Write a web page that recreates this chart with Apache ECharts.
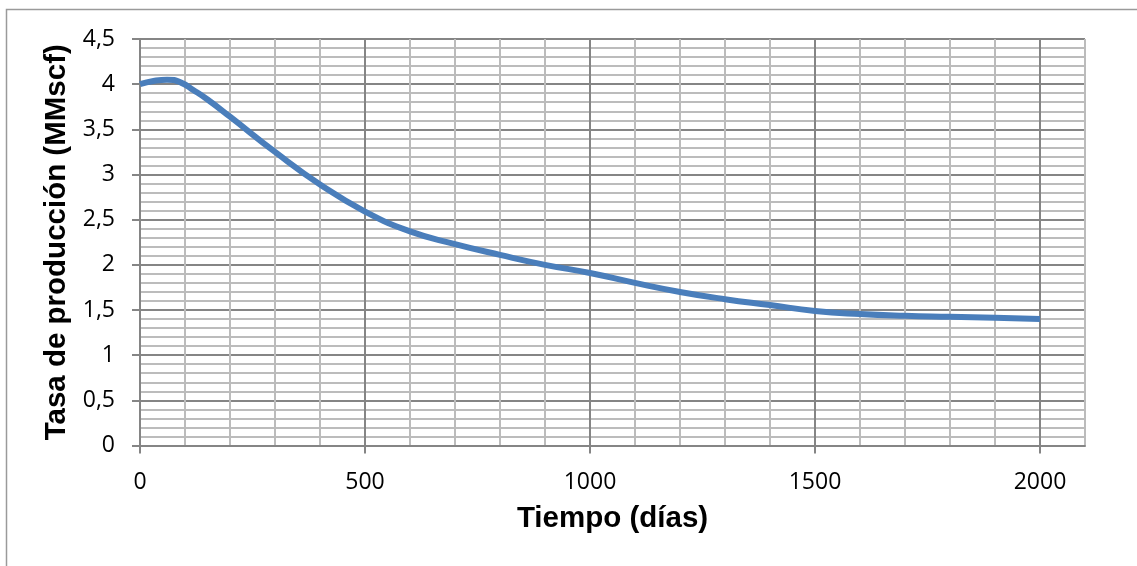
<!DOCTYPE html>
<html>
<head>
<meta charset="utf-8">
<script src="https://cdn.jsdelivr.net/npm/echarts@6/dist/echarts.min.js"></script>
<style>
  html, body { margin: 0; padding: 0; background: #fff; }
  #chart { width: 1137px; height: 566px; }
</style>
</head>
<body>
<div id="chart"></div>
<script>
// datos
const dias = [0, 30, 60, 90, 120, 150, 200, 300, 400, 500, 600, 700, 800, 900, 1000,
  1100, 1200, 1300, 1400, 1500, 1600, 1700, 1800, 1900, 2000]
const tasa = [4.0, 4.035, 4.05, 4.02, 3.93, 3.83, 3.64, 3.25, 2.89, 2.59, 2.37, 2.23, 2.11, 2.0, 1.91,
  1.80, 1.70, 1.62, 1.555, 1.49, 1.455, 1.435, 1.424, 1.413, 1.40]
const xTicks = [0, 500, 1000, 1500, 2000]

const chart = echarts.init(document.getElementById('chart'))

const major = '#858585'
const minor = '#bcbcbc'

const option = {
  animation: false,
  graphic: [{
    type: 'rect',
    shape: { x: 6.5, y: 9.5, width: 1140, height: 570 },
    style: { fill: 'none', stroke: '#9a9a9a', lineWidth: 1.5 }
  }],
  grid: { left: 140, top: 39, right: 52, bottom: 120.5 },
  xAxis: [{
    type: 'value',
    min: 0,
    max: 2100,
    interval: 100,
    name: 'Tiempo (días)',
    nameLocation: 'middle',
    nameGap: 58,
    nameTextStyle: { fontFamily: 'Liberation Sans', fontWeight: 'bold', fontSize: 29.5, color: '#000' },
    axisLine: { lineStyle: { color: major, width: 2 } },
    axisTick: { customValues: xTicks, length: 8, lineStyle: { color: major, width: 2 } },
    axisLabel: {
      customValues: xTicks,
      margin: 25,
      fontFamily: 'Open Sans', fontSize: 23, color: '#000',
      formatter: v => String(v)
    },
    splitLine: { show: false },
    z: 3
  }, {
    // solo la rejilla vertical cada 100 días
    type: 'value',
    position: 'bottom',
    min: 0,
    max: 2100,
    interval: 100,
    axisLine: { show: false },
    axisTick: { show: false },
    axisLabel: { show: false },
    splitLine: {
      show: true,
      lineStyle: { color: [major, minor, minor, minor, minor], width: 2 }
    }
  }],
  yAxis: {
    type: 'value',
    min: 0,
    max: 4.5,
    interval: 0.5,
    name: 'Tasa de producción (MMscf)',
    nameLocation: 'middle',
    nameGap: 62,
    nameTextStyle: { fontFamily: 'Liberation Sans', fontWeight: 'bold', fontSize: 29.5, color: '#000' },
    axisLine: { show: true, lineStyle: { color: major, width: 2 } },
    axisTick: { show: true, length: 8, lineStyle: { color: major, width: 2 } },
    axisLabel: {
      margin: 25,
      fontFamily: 'Open Sans', fontSize: 23, color: '#000',
      formatter: v => String(v).replace('.', ',')
    },
    splitLine: { show: true, lineStyle: { color: major, width: 2 } },
    minorTick: { show: false, splitNumber: 5 },
    minorSplitLine: { show: true, lineStyle: { color: minor, width: 2 } }
  },
  series: [{
    type: 'line',
    xAxisIndex: 0,
    data: dias.map((d, i) => [d, tasa[i]]),
    smooth: true,
    symbol: 'none',
    lineStyle: { color: '#4a7ebb', width: 6 }
  }]
}

chart.setOption(option)
</script>
</body>
</html>
